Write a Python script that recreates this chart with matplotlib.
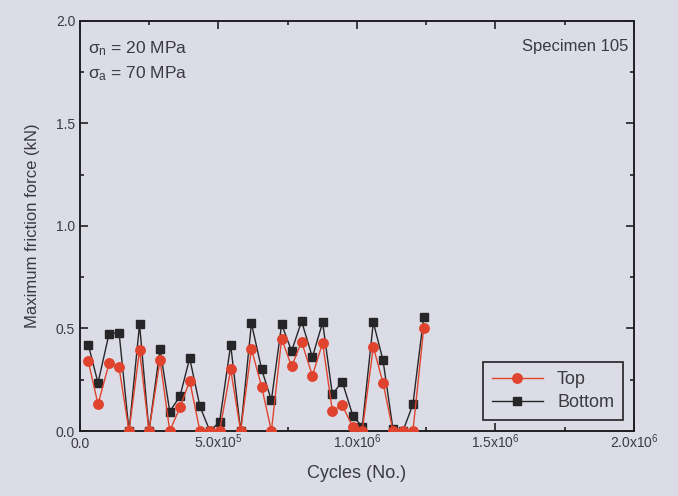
import numpy as np
import matplotlib
matplotlib.use("Agg")
import matplotlib.pyplot as plt
from matplotlib.ticker import MultipleLocator, FuncFormatter

plt.rcParams['font.family'] = ['Liberation Sans', 'DejaVu Sans']
plt.rcParams['mathtext.fontset'] = 'custom'
plt.rcParams['mathtext.rm'] = 'Liberation Sans'
plt.rcParams['mathtext.it'] = 'Liberation Sans'

# cycles at which friction force was recorded
cycles = [30e3, 65e3, 105e3, 141e3, 177e3, 215e3, 249e3, 289e3, 324e3, 361e3,
          396e3, 433e3, 469e3, 504e3, 544e3, 580e3, 619e3, 656e3, 691e3, 728e3,
          764e3, 800e3, 839e3, 876e3, 911e3, 947e3, 985e3, 1019e3, 1059e3, 1094e3,
          1130e3, 1166e3, 1202e3, 1241e3]
top = [0.34, 0.13, 0.33, 0.31, 0.0, 0.395, 0.0, 0.345, 0.0, 0.115,
       0.245, 0.0, 0.0, 0.0, 0.30, 0.0, 0.40, 0.215, 0.0, 0.45,
       0.315, 0.435, 0.27, 0.43, 0.10, 0.125, 0.02, 0.0, 0.41, 0.235,
       0.0, 0.0, 0.0, 0.50]
bottom = [0.42, 0.235, 0.475, 0.48, 0.0, 0.52, 0.0, 0.40, 0.095, 0.17,
          0.355, 0.12, 0.0, 0.045, 0.42, 0.0, 0.525, 0.30, 0.15, 0.52,
          0.39, 0.535, 0.36, 0.53, 0.18, 0.24, 0.075, 0.02, 0.53, 0.345,
          0.01, 0.0, 0.13, 0.555]

bg = '#dcdce6'
txt = '#3a3a40'

fig = plt.figure(figsize=(6.78, 4.96), dpi=100, facecolor=bg)
ax = fig.add_axes([0.118, 0.131, 0.817, 0.827])
ax.set_facecolor(bg)

lb, = ax.plot(cycles, bottom, '-s', color='#262628', lw=1.0, ms=5.5,
              label='Bottom', zorder=2)
lt, = ax.plot(cycles, top, '-o', color='#e0432e', mec='#e0432e', lw=1.0, ms=6.8,
              label='Top', zorder=3)

ax.set_xlim(0, 2e6)
ax.set_ylim(0, 2.0)
ax.xaxis.set_major_locator(MultipleLocator(5e5))
ax.xaxis.set_minor_locator(MultipleLocator(2.5e5))
ax.yaxis.set_major_locator(MultipleLocator(0.5))
ax.yaxis.set_minor_locator(MultipleLocator(0.25))


def xfmt(v, pos):
    if v <= 0:
        return '0.0'
    e = int(np.floor(np.log10(v)))
    m = v / 10 ** e
    return '%.1fx10$^{%d}$' % (m, e)


ax.xaxis.set_major_formatter(FuncFormatter(xfmt))
ax.yaxis.set_major_formatter(FuncFormatter(lambda v, p: '%.1f' % v))

ax.tick_params(which='both', direction='in', top=True, right=True,
               colors='#202024', labelcolor=txt, labelsize=10, width=1.2)
ax.tick_params(which='major', length=6)
ax.tick_params(which='minor', length=3)
ax.tick_params(axis='x', pad=12)
for lab in ax.get_xticklabels():
    lab.set_verticalalignment('baseline')
for s in ax.spines.values():
    s.set_linewidth(1.4)
    s.set_color('#202024')

ax.set_xlabel('Cycles (No.)', fontsize=13, color=txt, labelpad=10)
ax.set_ylabel('Maximum friction force (kN)', fontsize=12, color=txt, labelpad=11)

ax.text(0.015, 0.955, r'$\sigma_{\rm n}$ = 20 MPa', transform=ax.transAxes,
        fontsize=12.5, color=txt, va='top')
ax.text(0.015, 0.895, r'$\sigma_{\rm a}$ = 70 MPa', transform=ax.transAxes,
        fontsize=12.5, color=txt, va='top')
ax.text(0.99, 0.955, 'Specimen 105', transform=ax.transAxes,
        fontsize=12, color=txt, va='top', ha='right')

leg = ax.legend(handles=[lt, lb], loc='lower right', fontsize=13,
                frameon=True, fancybox=False, edgecolor='#202024',
                facecolor=bg, framealpha=1, handlelength=2.8,
                borderaxespad=0.6, labelspacing=0.35, borderpad=0.5)
leg.get_frame().set_linewidth(1.2)
for t in leg.get_texts():
    t.set_color(txt)

fig.savefig('out.png', dpi=100, facecolor=bg)
